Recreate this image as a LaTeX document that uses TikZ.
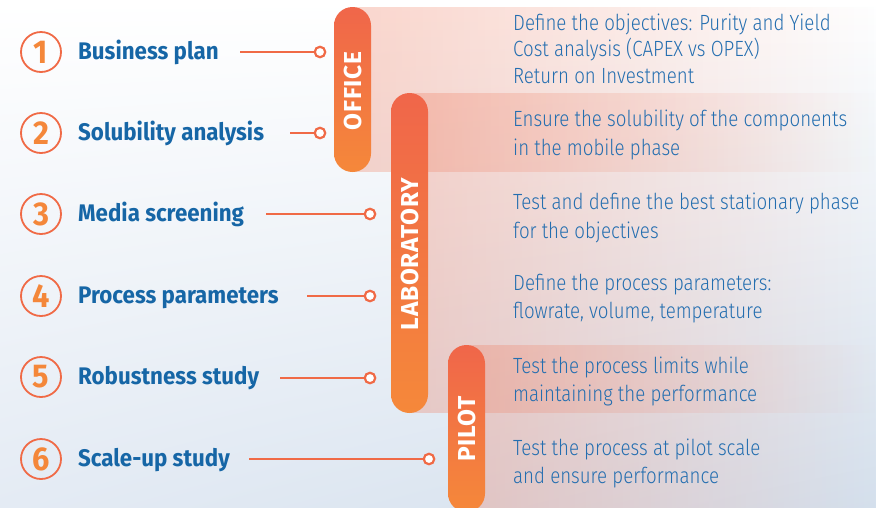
\documentclass[tikz,border=0pt]{standalone}
\usepackage{fontspec}
\setmainfont{Fira Sans}
\newfontfamily\descfont{Fira Sans Light}[FakeStretch=0.85]
\newfontfamily\lblfont{Fira Sans}[FakeStretch=0.93]
\newfontfamily\pillfont{Fira Sans}[LetterSpace=3]
\usetikzlibrary{fadings,shadings}
\definecolor{clbl}{RGB}{22,102,166}
\definecolor{cdesc}{RGB}{36,110,176}
\definecolor{cline}{RGB}{240,106,70}
\definecolor{cdigit}{RGB}{244,135,58}
\definecolor{ptop}{RGB}{240,102,74}
\definecolor{pbot}{RGB}{245,136,58}
\definecolor{cband}{RGB}{240,120,90}
\definecolor{bgL}{RGB}{228,235,244}
\definecolor{bgR}{RGB}{212,224,237}
\tikzfading[name=fadeR, left color=transparent!0, middle color=transparent!15, right color=transparent!100]
\tikzset{
  numc/.style={circle, draw=cline, line width=1.8pt, minimum size=40pt, inner sep=0pt, text=cdigit, font=\lblfont\bfseries\fontsize{33}{33}\selectfont},
  lbl/.style={anchor=base west, inner sep=0pt, text=clbl, font=\lblfont\bfseries\fontsize{24}{24}\selectfont},
  desc/.style={anchor=base west, inner sep=0pt, text=cdesc, font=\descfont\fontsize{22}{22}\selectfont},
  dotn/.style={circle, draw=cline, fill=white, line width=2.2pt, minimum size=10.5pt, inner sep=0pt},
  conn/.style={draw=cline, line width=2.4pt},
  pilltxt/.style={rotate=90, text=white, inner sep=0pt, font=\pillfont\bfseries\fontsize{24.5}{24.5}\selectfont},
  band/.style={fill=cband, fill opacity=0.3, path fading=fadeR},
  pill/.style={top color=ptop, bottom color=pbot, rounded corners=18.5pt}
}
\begin{document}
\begin{tikzpicture}[x=1pt,y=-1pt]
\useasboundingbox (0,0) rectangle (876,507);
\clip (0,0) rectangle (876,507);
% background
\shade[upper left=white, upper right=white, lower left=bgL, lower right=bgR] (0,0) rectangle (876,507);
% bands
\fill[band] (352,7) rectangle (876,172);
\fill[band] (410,93) rectangle (876,413);
\fill[band] (466,345) rectangle (876,512);
% pills
\shade[pill] (334,7) rectangle (371,172);
\shade[pill] (391,93) rectangle (428,413);
\shade[pill] (448,345) rectangle (485,512);
\node[pilltxt] (office) at (353,91) {OFFICE};
\node[pilltxt] (lab) at (410.5,254) {LABORATORY};
\node[pilltxt] (pilot) at (467.5,429) {PILOT};
% numbers
\node[numc] (n1) at (41,52) {1};
\node[numc] (n2) at (41,133) {2};
\node[numc] (n3) at (41,214) {3};
\node[numc] (n4) at (41,296) {4};
\node[numc] (n5) at (41,377) {5};
\node[numc] (n6) at (41,459) {6};
% labels
\node[lbl] (l1) at (78,59.5) {Business plan};
\node[lbl] (l2) at (78,140.5) {Solubility analysis};
\node[lbl] (l3) at (78,221.5) {Media screening};
\node[lbl] (l4) at (78,303.5) {Process parameters};
\node[lbl] (l5) at (78,384.5) {Robustness study};
\node[lbl] (l6) at (78,466.5) {Scale-up study};
% connectors
\coordinate (s1) at (240,52);
\coordinate (s2) at (290,133);
\coordinate (s3) at (266,214);
\coordinate (s4) at (307,296);
\coordinate (s5) at (280,378);
\coordinate (s6) at (249,459);
\node[dotn] (d1) at (320,52) {};
\node[dotn] (d2) at (320,133) {};
\node[dotn] (d3) at (370,214) {};
\node[dotn] (d4) at (370,296) {};
\node[dotn] (d5) at (370,378) {};
\node[dotn] (d6) at (429,459) {};
\draw[conn] (s1) -- (d1);
\draw[conn] (s2) -- (d2);
\draw[conn] (s3) -- (d3);
\draw[conn] (s4) -- (d4);
\draw[conn] (s5) -- (d5);
\draw[conn] (s6) -- (d6);
% descriptions
\node[desc] (t1a) at (513,30) {Define the objectives: Purity and Yield};
\node[desc] (t1b) at (513,56.5) {Cost analysis (CAPEX vs OPEX)};
\node[desc] (t1c) at (513,83) {Return on Investment};
\node[desc] (t2a) at (513,126.7) {Ensure the solubility of the components};
\node[desc] (t2b) at (513,155) {in the mobile phase};
\node[desc] (t3a) at (513,209) {Test and define the best stationary phase};
\node[desc] (t3b) at (513,238) {for the objectives};
\node[desc] (t4a) at (513,290) {Define the process parameters:};
\node[desc] (t4b) at (513,318) {flowrate, volume, temperature};
\node[desc] (t5a) at (513,373) {Test the process limits while};
\node[desc] (t5b) at (513,401.7) {maintaining the performance};
\node[desc] (t6a) at (513,455) {Test the process at pilot scale};
\node[desc] (t6b) at (513,483) {and ensure performance};
\end{tikzpicture}
\end{document}
